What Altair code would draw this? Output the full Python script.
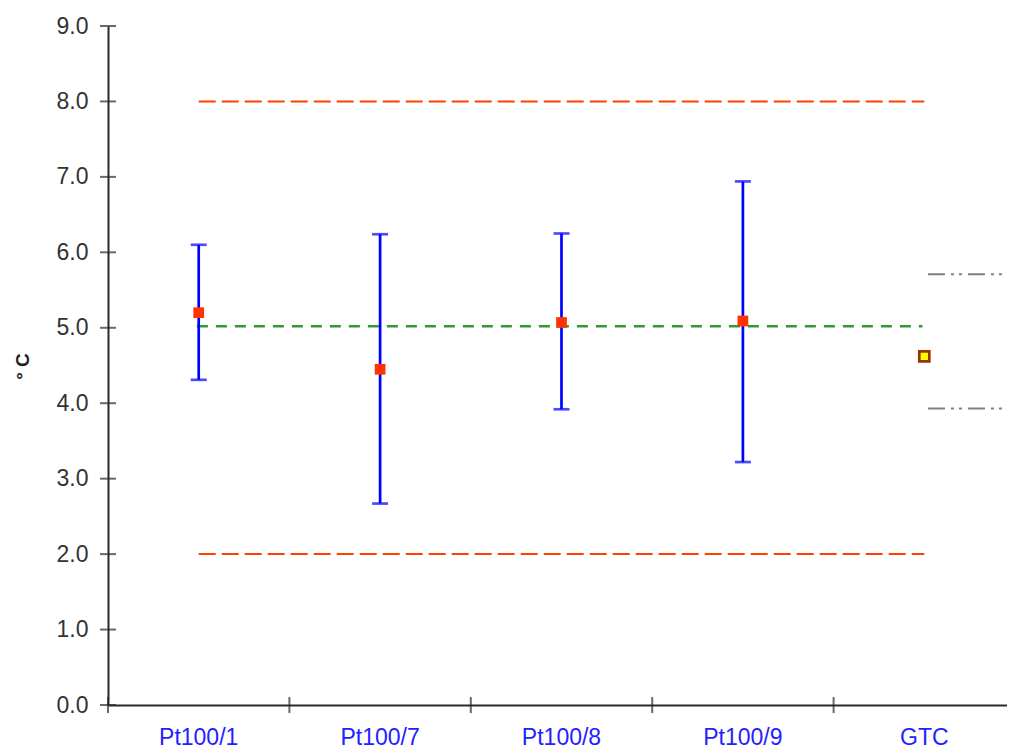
import altair as alt
import pandas as pd

# ---- data ----
categories = ["Pt100/1", "Pt100/7", "Pt100/8", "Pt100/9", "GTC"]
lab_names = ["Pt100/1", "Pt100/7", "Pt100/8", "Pt100/9"]
lab_values = [5.20, 4.45, 5.07, 5.09]
lab_lower = [4.31, 2.67, 3.92, 3.22]
lab_upper = [6.10, 6.24, 6.25, 6.94]
gtc_value = [4.62]
gtc_band = [5.71, 3.93]
limit_values = [8.0, 2.0]
reference_value = [5.02]
y_ticks = [0, 1, 2, 3, 4, 5, 6, 7, 8, 9]

labs = pd.DataFrame({"cat": lab_names, "value": lab_values, "lo": lab_lower, "hi": lab_upper})
gtc = pd.DataFrame({"cat": ["GTC"], "value": gtc_value})
limits = pd.DataFrame({"y": limit_values, "start": categories[0], "end": categories[-1]})
ref = pd.DataFrame({"y": reference_value, "start": categories[0], "end": categories[-1]})
band = pd.DataFrame({"y": gtc_band, "cat": "GTC"})
ytick_df = pd.DataFrame({"v": y_ticks})
xedge_df = pd.DataFrame({"cat": categories})
xlast_df = pd.DataFrame({"cat": categories[-1:]})

FONT = "Liberation Sans"
AX = "#2a2a2a"
W, H = 899, 679
xscale = alt.Scale(domain=categories, range=[0, 907], paddingInner=0, paddingOuter=0)
yscale = alt.Scale(domain=[0, 9], nice=False, zero=False)

main_x = alt.Axis(orient="bottom", ticks=False, domainColor=AX, domainWidth=2,
                  labelColor="#2222ff", labelFontSize=23, labelFont=FONT, labelPadding=21,
                  labelAngle=0, title=None, grid=False)
main_y = alt.Axis(orient="left", values=y_ticks, format=".1f", ticks=False,
                  domainColor=AX, domainWidth=2, labelColor="#333333",
                  labelFontSize=23, labelFont=FONT, labelPadding=20, grid=False,
                  title="° C", titleFont=FONT, titleFontSize=19, titleFontWeight="bold",
                  titleColor="#222222", titleAngle=270, titleX=-86, titleY=340,
                  titleAlign="center", titleBaseline="middle")


def X(field, **kw):
    return alt.X(field, scale=xscale, axis=main_x, **kw)


def Y(field):
    return alt.Y(field, scale=yscale, axis=main_y)


# limit lines (orange)
limit_lines = alt.Chart(limits).mark_rule(color="#ff4000", strokeWidth=2, strokeDash=[17, 6]).encode(
    x=X("start:N", bandPosition=0.5),
    x2=alt.X2("end:N", bandPosition=0.5),
    y=Y("y:Q"),
)
# reference line (green)
ref_line = alt.Chart(ref).mark_rule(color="#339933", strokeWidth=2.5, strokeDash=[11, 8]).encode(
    x=X("start:N", bandPosition=0.49),
    x2=alt.X2("end:N", bandPosition=0.49),
    y=Y("y:Q"),
)
# GTC uncertainty lines (gray dash-dot)
band_lines = alt.Chart(band).mark_rule(color="#808080", strokeWidth=2, strokeDash=[17, 6, 3, 5, 3, 6]).encode(
    x=X("cat:N", bandPosition=0.52),
    x2=alt.X2("cat:N", bandPosition=1),
    y=Y("y:Q"),
)
# error bars
err = alt.Chart(labs).mark_rule(color="#0000ff", strokeWidth=2.7).encode(
    x=X("cat:N"),
    y=Y("lo:Q"),
    y2="hi:Q",
)
cap_lo = alt.Chart(labs).mark_tick(color="#0000ff", size=16, thickness=2.7, orient="horizontal").encode(
    x=X("cat:N"),
    y=Y("lo:Q"),
)
cap_hi = alt.Chart(labs).mark_tick(color="#0000ff", size=16, thickness=2.7, orient="horizontal").encode(
    x=X("cat:N"),
    y=Y("hi:Q"),
)
pts = alt.Chart(labs).mark_square(color="#ff3300", size=115, opacity=1).encode(
    x=X("cat:N"),
    y=Y("value:Q"),
)
gtc_pt = alt.Chart(gtc).mark_square(fill="#ffff00", stroke="#993300", strokeWidth=2.7, size=100,
                                     opacity=1, filled=True).encode(
    x=X("cat:N"),
    y=Y("value:Q"),
)
# crossing axis ticks, placed through the scales
yticks = alt.Chart(ytick_df).mark_tick(color=AX, size=16, thickness=2, orient="horizontal").encode(
    y=Y("v:Q"),
    x=alt.value(0),
)
xticks = alt.Chart(xedge_df).mark_tick(color=AX, size=16, thickness=2, orient="vertical").encode(
    x=X("cat:N", bandPosition=0),
    y=alt.value(H),
)
xtick_last = alt.Chart(xlast_df).mark_tick(color=AX, size=16, thickness=2, orient="vertical").encode(
    x=X("cat:N", bandPosition=1),
    y=alt.value(H),
)

chart = alt.layer(
    limit_lines, ref_line, band_lines, err, cap_lo, cap_hi, pts, gtc_pt, yticks, xticks, xtick_last
).properties(
    width=W, height=H,
    background="white",
    autosize=alt.AutoSizeParams(type="none"),
    padding={"left": 100, "top": 18, "right": 0, "bottom": 48},
).configure_view(stroke=None)

chart.save("out.html", embed_options={"renderer": "svg", "actions": False})
